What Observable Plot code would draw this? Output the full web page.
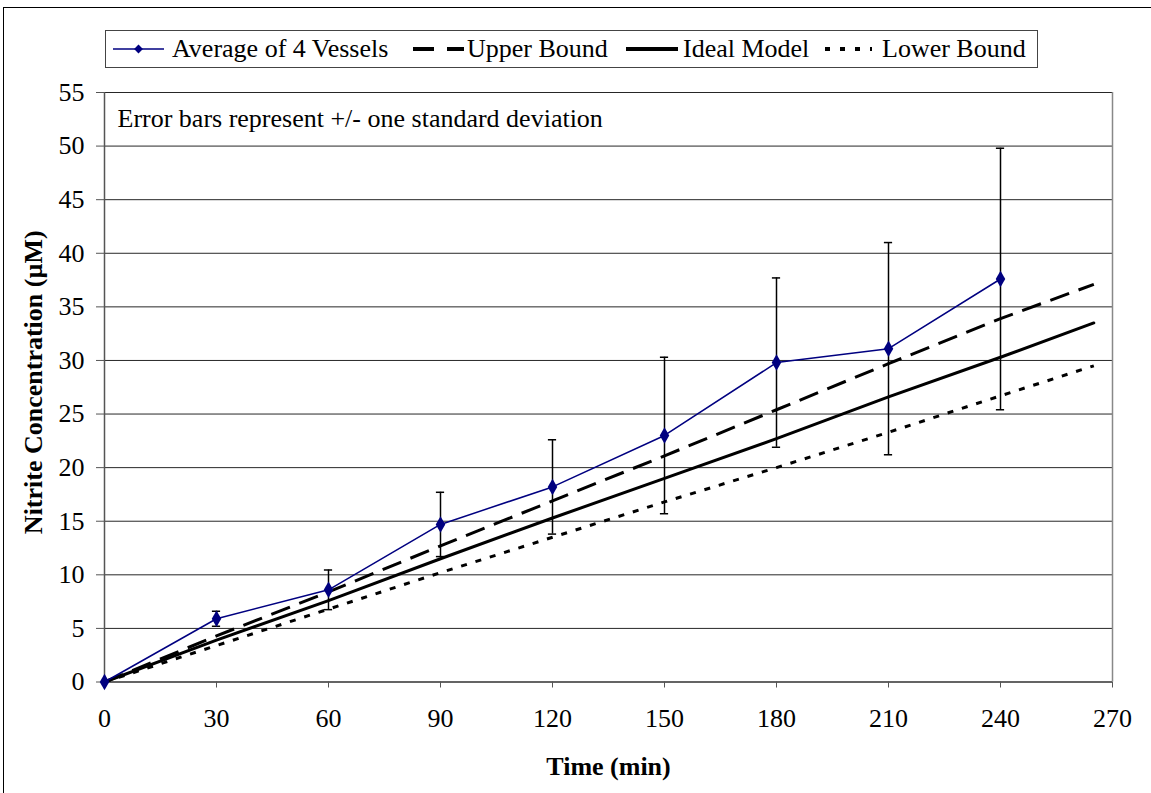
<!DOCTYPE html>
<html>
<head>
<meta charset="utf-8">
<script src="https://cdn.jsdelivr.net/npm/d3@7"></script>
<script src="https://cdn.jsdelivr.net/npm/@observablehq/plot@0.6"></script>
<style>
  html, body { margin: 0; padding: 0; background: #fff; }
  #wrap { position: relative; width: 1151px; height: 793px; overflow: hidden; font-family: "Liberation Serif", "Times New Roman", serif; }
  #frame { position: absolute; left: 3px; top: 7px; width: 1160px; height: 800px; border: 1px solid #000; box-sizing: border-box; pointer-events: none; }
  #legend { position: absolute; left: 105px; top: 30px; width: 933px; height: 38px; border: 1px solid #444; box-sizing: border-box; background: #fff;
            font-size: 26px; color: #000; white-space: nowrap; }
  #legend svg, #legend span { position: absolute; }
  #legend span { top: 4px; line-height: 28px; }
  #chart { position: absolute; left: 0; top: 0; }
</style>
</head>
<body>
<div id="wrap">
  <div id="chart"></div>
  <div id="legend"></div>
  <div id="frame"></div>
</div>
<script>
// Measured data
const times = [0, 30, 60, 90, 120, 150, 180, 210, 240];
const avgConc = [0, 5.9, 8.6, 14.7, 18.2, 23.0, 29.8, 31.1, 37.6];
const stdDev = [0, 0.7, 1.85, 3.0, 4.4, 7.3, 7.9, 9.9, 12.2];

// Model curves
const modelTimes = [0, 30, 60, 90, 120, 150, 180, 210, 240, 265];
const idealModel = [0, 3.9, 7.6, 11.5, 15.3, 19.0, 22.7, 26.6, 30.3, 33.5];
const upperBound = [0, 4.3, 8.4, 12.7, 16.9, 21.1, 25.4, 29.7, 33.9, 37.1];
const lowerBound = [0, 3.4, 6.8, 10.2, 13.5, 16.8, 20.0, 23.3, 26.7, 29.5];

// Axis ticks and labels
const xTicks = [0, 30, 60, 90, 120, 150, 180, 210, 240, 270];
const yTicks = [0, 5, 10, 15, 20, 25, 30, 35, 40, 45, 50, 55];
const xLabel = "Time (min)";
const yLabel = "Nitrite Concentration (µM)";
const note = "Error bars represent +/- one standard deviation";
const seriesNames = ["Average of 4 Vessels", "Upper Bound", "Ideal Model", "Lower Bound"];

const measured = times.map((t, i) => ({t, c: avgConc[i], sd: stdDev[i]}));
const model = modelTimes.map((t, i) => ({t, ideal: idealModel[i], upper: upperBound[i], lower: lowerBound[i]}));
const bars = measured.filter(d => d.sd > 0);

const navy = "#000080";
const capHalf = 1.1; // minutes

const plot = Plot.plot({
  width: 1151,
  height: 793,
  marginLeft: 104,
  marginRight: 39,
  marginTop: 92,
  marginBottom: 111.5,
  style: {fontFamily: "'Liberation Serif', 'Times New Roman', serif", fontSize: "26px", color: "#000", background: "transparent"},
  x: {domain: [0, 270], ticks: xTicks, tickFormat: d => d, label: null},
  y: {domain: [0, 55], ticks: yTicks, tickFormat: d => d, label: null},
  marks: [
    Plot.gridY(yTicks, {stroke: "#000", strokeOpacity: 0.85, strokeWidth: 1}),
    Plot.ruleX([270], {stroke: "#888", strokeWidth: 1.5}),
    Plot.ruleX([0], {stroke: "#555", strokeWidth: 1.5}),
    Plot.ruleY([0], {stroke: "#555", strokeWidth: 1.5}),
    Plot.axisX(xTicks, {tickSize: 6, tickPadding: 21, stroke: "#555", fontSize: 26}),
    Plot.axisY(yTicks, {tickSize: 8, tickPadding: 12, stroke: "#555", fontSize: 26}),
    // model lines
    Plot.line(model, {x: "t", y: "lower", stroke: "#000", strokeWidth: 3, strokeDasharray: "6,9", strokeLinecap: "butt"}),
    Plot.line(model, {x: "t", y: "ideal", stroke: "#000", strokeWidth: 3}),
    Plot.line(model, {x: "t", y: "upper", stroke: "#000", strokeWidth: 3, strokeDasharray: "20,10", strokeLinecap: "butt"}),
    // error bars
    Plot.ruleX(bars, {x: "t", y1: d => d.c - d.sd, y2: d => d.c + d.sd, stroke: "#000", strokeWidth: 1.5}),
    Plot.ruleY(bars, {y: d => d.c + d.sd, x1: d => d.t - capHalf, x2: d => d.t + capHalf, stroke: "#000", strokeWidth: 1.5}),
    Plot.ruleY(bars, {y: d => d.c - d.sd, x1: d => d.t - capHalf, x2: d => d.t + capHalf, stroke: "#000", strokeWidth: 1.5}),
    // average
    Plot.line(measured, {x: "t", y: "c", stroke: navy, strokeWidth: 1.5}),
    Plot.dot(measured, {x: "t", y: "c", symbol: "diamond", fill: navy, r: 5}),
    // texts
    Plot.text([note], {frameAnchor: "top-left", dx: 13, dy: 16, textAnchor: "start", fontSize: 26, fill: "#000"}),
    Plot.text([xLabel], {frameAnchor: "bottom", dy: 93, fontSize: 26, fontWeight: "bold", fill: "#000"}),
    Plot.text([yLabel], {frameAnchor: "left", textAnchor: "middle", lineAnchor: "middle", dx: -71, dy: -5, rotate: -90, fontSize: 26, fontWeight: "bold", fill: "#000"})
  ]
});
document.getElementById("chart").appendChild(plot);

// Legend
const legend = d3.select("#legend");
const swatches = [
  {name: seriesNames[0], stroke: navy, w: 1.5, dash: null, marker: true, x: 7, tw: 51, tx: 66},
  {name: seriesNames[1], stroke: "#000", w: 4, dash: "21,13", marker: false, x: 307, tw: 51, tx: 361},
  {name: seriesNames[2], stroke: "#000", w: 4, dash: null, marker: false, x: 520, tw: 52, tx: 577},
  {name: seriesNames[3], stroke: "#000", w: 4, dash: "5,10", marker: false, x: 719, tw: 47, tx: 776}
];
swatches.forEach(s => {
  const svg = legend.append("svg").attr("width", s.tw).attr("height", 20)
    .style("left", s.x + "px").style("top", "8px");
  svg.append("line").attr("x1", 0).attr("x2", s.tw).attr("y1", 10).attr("y2", 10)
    .attr("stroke", s.stroke).attr("stroke-width", s.w).attr("stroke-dasharray", s.dash);
  if (s.marker) {
    svg.append("path").attr("d", d3.symbol(d3.symbolDiamond2, 50)()).attr("transform", `translate(${s.tw/2},10)`).attr("fill", navy);
  }
  legend.append("span").style("left", s.tx + "px").text(s.name);
});
</script>
</body>
</html>
